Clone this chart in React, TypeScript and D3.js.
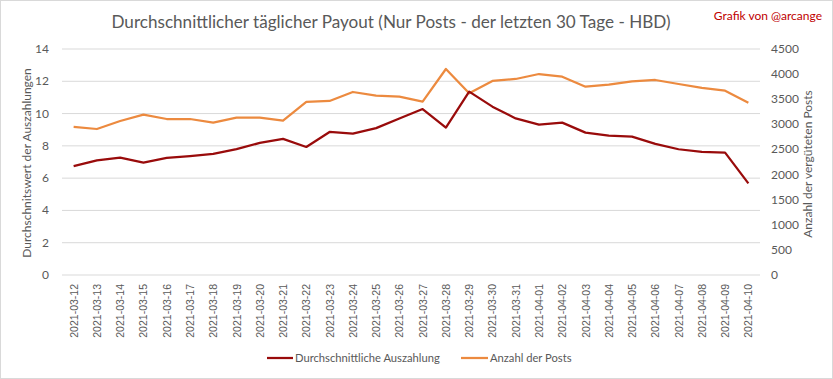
import React from "react";
import * as d3 from "d3";

const dates = [
  "2021-03-12","2021-03-13","2021-03-14","2021-03-15","2021-03-16","2021-03-17","2021-03-18","2021-03-19","2021-03-20","2021-03-21",
  "2021-03-22","2021-03-23","2021-03-24","2021-03-25","2021-03-26","2021-03-27","2021-03-28","2021-03-29","2021-03-30","2021-03-31",
  "2021-04-01","2021-04-02","2021-04-03","2021-04-04","2021-04-05","2021-04-06","2021-04-07","2021-04-08","2021-04-09","2021-04-10",
];
const payout = [
  6.75, 7.1, 7.27, 6.96, 7.25, 7.37, 7.5, 7.8, 8.18, 8.43,
  7.93, 8.86, 8.76, 9.1, 9.7, 10.28, 9.13, 11.36, 10.43, 9.7,
  9.31, 9.44, 8.82, 8.63, 8.57, 8.12, 7.79, 7.62, 7.58, 5.68,
];
const posts = [
  2947, 2907, 3066, 3192, 3106, 3106, 3033, 3133, 3133, 3073,
  3445, 3465, 3644, 3571, 3551, 3451, 4102, 3618, 3863, 3903,
  4002, 3949, 3750, 3790, 3857, 3883, 3803, 3724, 3670, 3431,
];
const leftTicks = [0, 2, 4, 6, 8, 10, 12, 14];
const rightTicks = [0, 500, 1000, 1500, 2000, 2500, 3000, 3500, 4000, 4500];

const W = 833, H = 379;
const plot = { left: 62, right: 760, top: 49, bottom: 275 };
const RED = "#990b0b";
const ORANGE = "#ec8a3f";
const GRAY = "#595959";
const FONT = "Lato, 'Open Sans', sans-serif";

export default function App() {
  const x = d3.scaleBand<string>().domain(dates).range([plot.left, plot.right]);
  const yL = d3.scaleLinear().domain([0, 14]).range([plot.bottom, plot.top]);
  const yR = d3.scaleLinear().domain([0, 4500]).range([plot.bottom, plot.top]);
  const cx = (d: string) => (x(d) ?? 0) + x.bandwidth() / 2;
  const lineL = d3.line<number>().x((_, i) => cx(dates[i])).y((v) => yL(v));
  const lineR = d3.line<number>().x((_, i) => cx(dates[i])).y((v) => yR(v));

  return (
    <svg width={W} height={H} style={{ position: "absolute", left: 0, top: 0, background: "#fff" }} fontFamily={FONT}>
      <rect x={0.5} y={0.5} width={W - 1} height={H - 1} fill="#fff" stroke="#d9d9d9" />
      <text x={391} y={28} textAnchor="middle" fontSize={18} fill={GRAY} textLength={559} lengthAdjust="spacingAndGlyphs">
        Durchschnittlicher täglicher Payout (Nur Posts - der letzten 30 Tage - HBD)
      </text>
      <text x={822} y={20} textAnchor="end" fontSize={12} fill="#c00000">Grafik von @arcange</text>

      {leftTicks.map((t) => (
        <g key={"g" + t}>
          <line x1={plot.left} x2={plot.right} y1={yL(t)} y2={yL(t)} stroke="#d9d9d9" strokeWidth={1} />
          <text x={49} y={yL(t) + 4} textAnchor="end" fontSize={12} fill={GRAY}>{t}</text>
        </g>
      ))}
      {rightTicks.map((t) => (
        <text key={"r" + t} x={771} y={yR(t) + 4} textAnchor="start" fontSize={12} fill={GRAY}>{t}</text>
      ))}

      <text transform={`translate(31,${(plot.top + plot.bottom) / 2 + 1}) rotate(-90)`} textAnchor="middle" fontSize={12} fill={GRAY}>
        Durchschnitswert der Auszahlungen
      </text>
      <text transform={`translate(812,${(plot.top + plot.bottom) / 2 + 2}) rotate(-90)`} textAnchor="middle" fontSize={12} fill={GRAY}>
        Anzahl der vergüteten  Posts
      </text>

      {dates.map((d) => (
        <text key={d} transform={`translate(${cx(d) + 4},${plot.bottom + 9}) rotate(-90)`} textAnchor="end" fontSize={10.5}
          fill={GRAY} fontFamily="'Liberation Sans', Arial, sans-serif">
          {d}
        </text>
      ))}

      <path d={lineR(posts) ?? ""} fill="none" stroke={ORANGE} strokeWidth={2.25} strokeLinejoin="round" />
      <path d={lineL(payout) ?? ""} fill="none" stroke={RED} strokeWidth={2.25} strokeLinejoin="round" />

      <line x1={267} x2={293} y1={358} y2={358} stroke={RED} strokeWidth={2.25} />
      <text x={295} y={362} fontSize={11.2} fill={GRAY}>Durchschnittliche Auszahlung</text>
      <line x1={461} x2={488} y1={358} y2={358} stroke={ORANGE} strokeWidth={2.25} />
      <text x={490} y={362} fontSize={11.2} fill={GRAY}>Anzahl der Posts</text>
    </svg>
  );
}
